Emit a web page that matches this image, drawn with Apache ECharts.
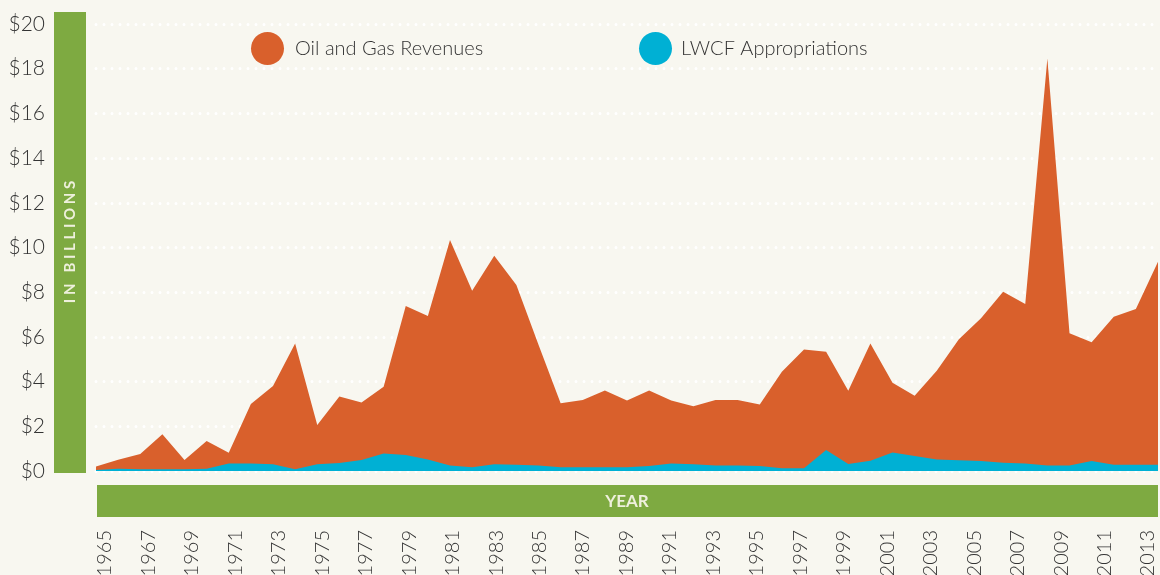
<!DOCTYPE html>
<html>
<head>
<meta charset="utf-8">
<script src="https://cdn.jsdelivr.net/npm/echarts@6/dist/echarts.min.js"></script>
<style>
  html, body { margin: 0; padding: 0; background: #f8f7f0; }
  #chart { width: 1160px; height: 575px; }
</style>
</head>
<body>
<div id="chart"></div>
<script>
// years 1965..2013
var years = [];
for (var y = 1965; y <= 2013; y++) years.push(String(y));

// billions of dollars
var oilGasRevenues = [
  0.2, 0.5, 0.76, 1.64, 0.49, 1.34, 0.82, 3.0, 3.8, 5.71,
  2.06, 3.33, 3.06, 3.77, 7.38, 6.93, 10.34, 8.07, 9.63, 8.32,
  5.65, 3.03, 3.18, 3.6, 3.15, 3.6, 3.15, 2.9, 3.18, 3.18,
  2.98, 4.44, 5.44, 5.34, 3.59, 5.71, 3.95, 3.37, 4.49, 5.89,
  6.83, 8.02, 7.47, 18.46, 6.16, 5.76, 6.9, 7.25, 9.36
];
var lwcfAppropriations = [
  0.05, 0.1, 0.08, 0.08, 0.08, 0.1, 0.34, 0.34, 0.3, 0.08,
  0.3, 0.36, 0.49, 0.78, 0.72, 0.52, 0.25, 0.17, 0.3, 0.28,
  0.25, 0.17, 0.17, 0.17, 0.17, 0.22, 0.34, 0.3, 0.25, 0.25,
  0.22, 0.12, 0.12, 0.94, 0.31, 0.46, 0.83, 0.67, 0.52, 0.48,
  0.45, 0.37, 0.34, 0.25, 0.25, 0.45, 0.28, 0.28, 0.28
];

var ORANGE = '#d9602c';
var BLUE = '#00b0d4';
var GREEN = '#7eaa41';
var FONT = 'Lato, "Open Sans", sans-serif';

var chart = echarts.init(document.getElementById('chart'));
chart.setOption({
  backgroundColor: '#f8f7f0',
  animation: false,
  grid: [
    { left: 96, right: 2, top: 24, bottom: 104, containLabel: false, outerBoundsMode: 'none' },
    // year labels sit on a slightly narrower band than the data
    { left: 105, right: 12, top: 24, bottom: 104, containLabel: false, outerBoundsMode: 'none' }
  ],
  legend: [{
    left: 246, top: 27,
    icon: 'circle', itemWidth: 33, itemHeight: 33, itemGap: 0,
    data: ['Oil and Gas Revenues'],
    textStyle: { fontFamily: FONT, fontSize: 20, fontWeight: 300, color: '#333', padding: [0, 0, 0, 6] }
  }, {
    left: 634, top: 27,
    icon: 'circle', itemWidth: 33, itemHeight: 33, itemGap: 0,
    data: ['LWCF Appropriations'],
    textStyle: { fontFamily: FONT, fontSize: 20, fontWeight: 300, color: '#333', padding: [0, 0, 0, 4] }
  }],
  xAxis: [{
    type: 'category',
    data: years,
    boundaryGap: false,
    axisLine: { show: false },
    axisTick: { show: false },
    axisLabel: { show: false }
  }, {
    gridIndex: 1,
    type: 'category',
    data: years,
    boundaryGap: false,
    axisLine: { show: false },
    axisTick: { show: false },
    splitLine: { show: false },
    axisLabel: {
      interval: 1,
      rotate: 90,
      margin: 59,
      fontFamily: FONT,
      fontSize: 20,
      fontWeight: 300,
      color: '#333'
    }
  }],
  yAxis: [{
    type: 'value',
    min: 0, max: 20, interval: 2,
    axisLine: { show: false },
    axisTick: { show: false },
    axisLabel: {
      margin: 51,
      formatter: '${value}',
      fontFamily: FONT,
      fontSize: 21,
      fontWeight: 300,
      color: '#333'
    },
    splitLine: {
      show: true,
      lineStyle: { color: '#ffffff', width: 3, type: [0, 8], cap: 'round' }
    }
  }, {
    gridIndex: 1,
    type: 'value',
    min: 0, max: 20,
    show: false
  }],
  series: [{
    name: 'Oil and Gas Revenues',
    type: 'line',
    data: oilGasRevenues,
    showSymbol: false,
    color: ORANGE,
    lineStyle: { width: 0 },
    areaStyle: { color: ORANGE, opacity: 1 }
  }, {
    name: 'LWCF Appropriations',
    type: 'line',
    data: lwcfAppropriations,
    showSymbol: false,
    color: BLUE,
    lineStyle: { width: 0 },
    areaStyle: { color: BLUE, opacity: 1 }
  }],
  graphic: [{
    type: 'rect',
    shape: { x: 54, y: 12, width: 32, height: 461 },
    style: { fill: GREEN },
    z: -1
  }, {
    type: 'text',
    x: 70, y: 242,
    rotation: Math.PI / 2,
    style: {
      text: 'I N   B I L L I O N S',
      fill: '#eef0dc',
      font: 'bold 15px ' + FONT,
      align: 'center',
      verticalAlign: 'middle'
    }
  }, {
    type: 'rect',
    shape: { x: 97, y: 485, width: 1061, height: 32 },
    style: { fill: GREEN },
    z: -1
  }, {
    type: 'text',
    x: 627, y: 502,
    style: {
      text: 'YEAR',
      fill: '#eef0dc',
      font: 'bold 17px ' + FONT,
      align: 'center',
      verticalAlign: 'middle'
    }
  }]
});
</script>
</body>
</html>
